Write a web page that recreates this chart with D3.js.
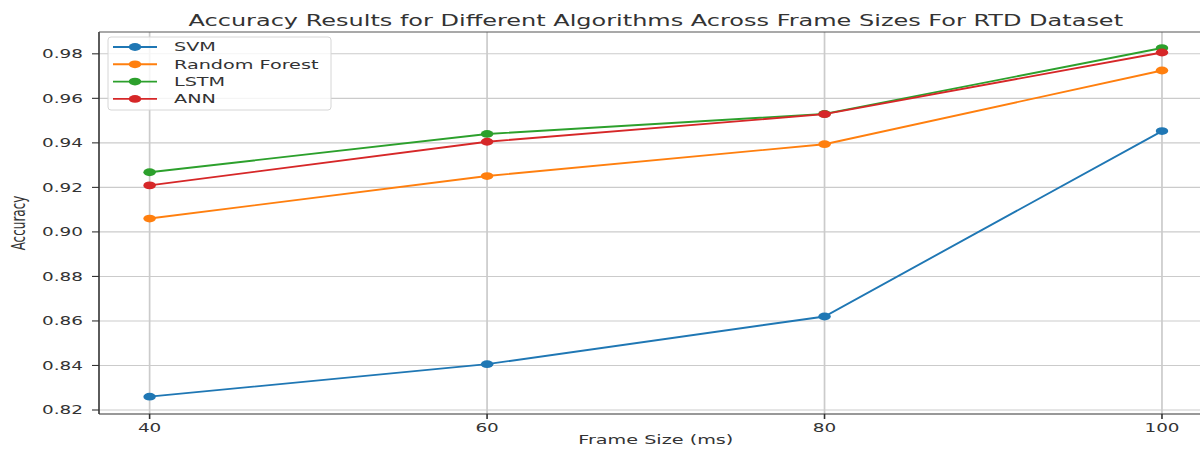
<!DOCTYPE html>
<html>
<head>
<meta charset="utf-8">
<script src="https://cdn.jsdelivr.net/npm/d3@7"></script>
<style>
  html, body { margin: 0; padding: 0; background: #fff; }
  svg { display: block; }
  text { font-family: "DejaVu Sans", sans-serif; fill: #333; }
</style>
</head>
<body>
<svg id="chart" width="1200" height="451"></svg>
<script>
// Frame sizes (ms) on the x axis
const frameSizes = [40, 60, 80, 100];

// Accuracy per algorithm at each frame size
const svm          = [0.826, 0.8406, 0.862, 0.9453];
const randomForest = [0.906, 0.9251, 0.9394, 0.9725];
const lstm         = [0.9268, 0.944, 0.953, 0.9826];
const ann          = [0.9209, 0.9405, 0.9529, 0.9806];

const seriesNames  = ["SVM", "Random Forest", "LSTM", "ANN"];
const seriesColors = ["#1f77b4", "#ff7f0e", "#2ca02c", "#d62728"];
const seriesValues = [svm, randomForest, lstm, ann];

const yTicks = [0.82, 0.84, 0.86, 0.88, 0.90, 0.92, 0.94, 0.96, 0.98];
const xTicks = [40, 60, 80, 100];

const titleText = "Accuracy Results for Different Algorithms Across Frame Sizes For RTD Dataset";
const xLabel = "Frame Size (ms)";
const yLabel = "Accuracy";

// horizontal stretch applied to text and markers
const SX = 1.6;

const svg = d3.select("#chart");
const plot = { left: 99, right: 1212.6, top: 32, bottom: 414 };

const x = d3.scaleLinear().domain([37, 103]).range([plot.left, plot.right]);
const y = d3.scaleLinear().domain([0.8182, 0.9898]).range([plot.bottom, plot.top]);

function addText(g, tx, ty, str, size, anchor, rot) {
  const t = g.append("text")
    .attr("transform", `translate(${tx},${ty}) scale(${SX},1)` + (rot ? ` rotate(${rot})` : ""))
    .attr("font-size", size)
    .attr("text-anchor", anchor || "start")
    .text(str);
  return t;
}

// grid
const grid = svg.append("g");
grid.selectAll("line.h").data(yTicks).join("line")
  .attr("x1", plot.left).attr("x2", plot.right)
  .attr("y1", d => y(d)).attr("y2", d => y(d))
  .attr("stroke", "#cbcbcb").attr("stroke-width", 1.1);
grid.selectAll("line.v").data(xTicks).join("line")
  .attr("x1", d => x(d)).attr("x2", d => x(d))
  .attr("y1", plot.top).attr("y2", plot.bottom)
  .attr("stroke", "#cbcbcb").attr("stroke-width", 1.7);

// series lines and markers
const line = d3.line().x((d, i) => x(frameSizes[i])).y(d => y(d));
seriesValues.forEach((vals, k) => {
  const g = svg.append("g");
  g.append("path").datum(vals)
    .attr("d", line)
    .attr("fill", "none")
    .attr("stroke", seriesColors[k])
    .attr("stroke-width", 1.9);
  g.selectAll("ellipse").data(vals).join("ellipse")
    .attr("cx", (d, i) => x(frameSizes[i]))
    .attr("cy", d => y(d))
    .attr("rx", 3.9 * SX).attr("ry", 3.9)
    .attr("fill", seriesColors[k]);
});

// spines
svg.append("line").attr("x1", plot.left).attr("x2", plot.left)
  .attr("y1", plot.top).attr("y2", plot.bottom)
  .attr("stroke", "#333").attr("stroke-width", 1.6);
svg.append("line").attr("x1", plot.left).attr("x2", plot.right)
  .attr("y1", plot.bottom).attr("y2", plot.bottom)
  .attr("stroke", "#333").attr("stroke-width", 1.1);
svg.append("line").attr("x1", plot.left).attr("x2", plot.right)
  .attr("y1", plot.top).attr("y2", plot.top)
  .attr("stroke", "#555").attr("stroke-width", 1.1);

// y axis ticks
const yAxis = svg.append("g");
yTicks.forEach(v => {
  yAxis.append("line").attr("x1", plot.left - 7).attr("x2", plot.left)
    .attr("y1", y(v)).attr("y2", y(v)).attr("stroke", "#333").attr("stroke-width", 1.1);
  addText(yAxis, plot.left - 16, y(v) + 4.2, d3.format(".2f")(v), 11.5, "end");
});

// x axis ticks
const xAxis = svg.append("g");
xTicks.forEach(v => {
  xAxis.append("line").attr("x1", x(v)).attr("x2", x(v))
    .attr("y1", plot.bottom).attr("y2", plot.bottom + 5).attr("stroke", "#333").attr("stroke-width", 1.6);
  addText(xAxis, x(v), 432, String(v), 11.5, "middle");
});

// title and axis labels
addText(svg, (plot.left + plot.right) / 2, 26, titleText, 15, "middle");
addText(svg, (plot.left + plot.right) / 2, 444, xLabel, 12, "middle");
addText(svg, 25, (plot.top + plot.bottom) / 2, yLabel, 12, "middle", -90);

// legend
const legend = svg.append("g");
legend.append("rect")
  .attr("x", 108).attr("y", 37).attr("width", 223).attr("height", 73)
  .attr("rx", 3).attr("ry", 3)
  .attr("fill", "#fff").attr("fill-opacity", 0.8)
  .attr("stroke", "#d6d6d6").attr("stroke-width", 1);
seriesNames.forEach((name, k) => {
  const ly = 47 + k * 17.3;
  legend.append("line").attr("x1", 113).attr("x2", 157)
    .attr("y1", ly).attr("y2", ly)
    .attr("stroke", seriesColors[k]).attr("stroke-width", 1.9);
  legend.append("ellipse").attr("cx", 135).attr("cy", ly)
    .attr("rx", 3.9 * SX).attr("ry", 3.9).attr("fill", seriesColors[k]);
  addText(legend, 174, ly + 4.3, name, 12, "start");
});
</script>
</body>
</html>
